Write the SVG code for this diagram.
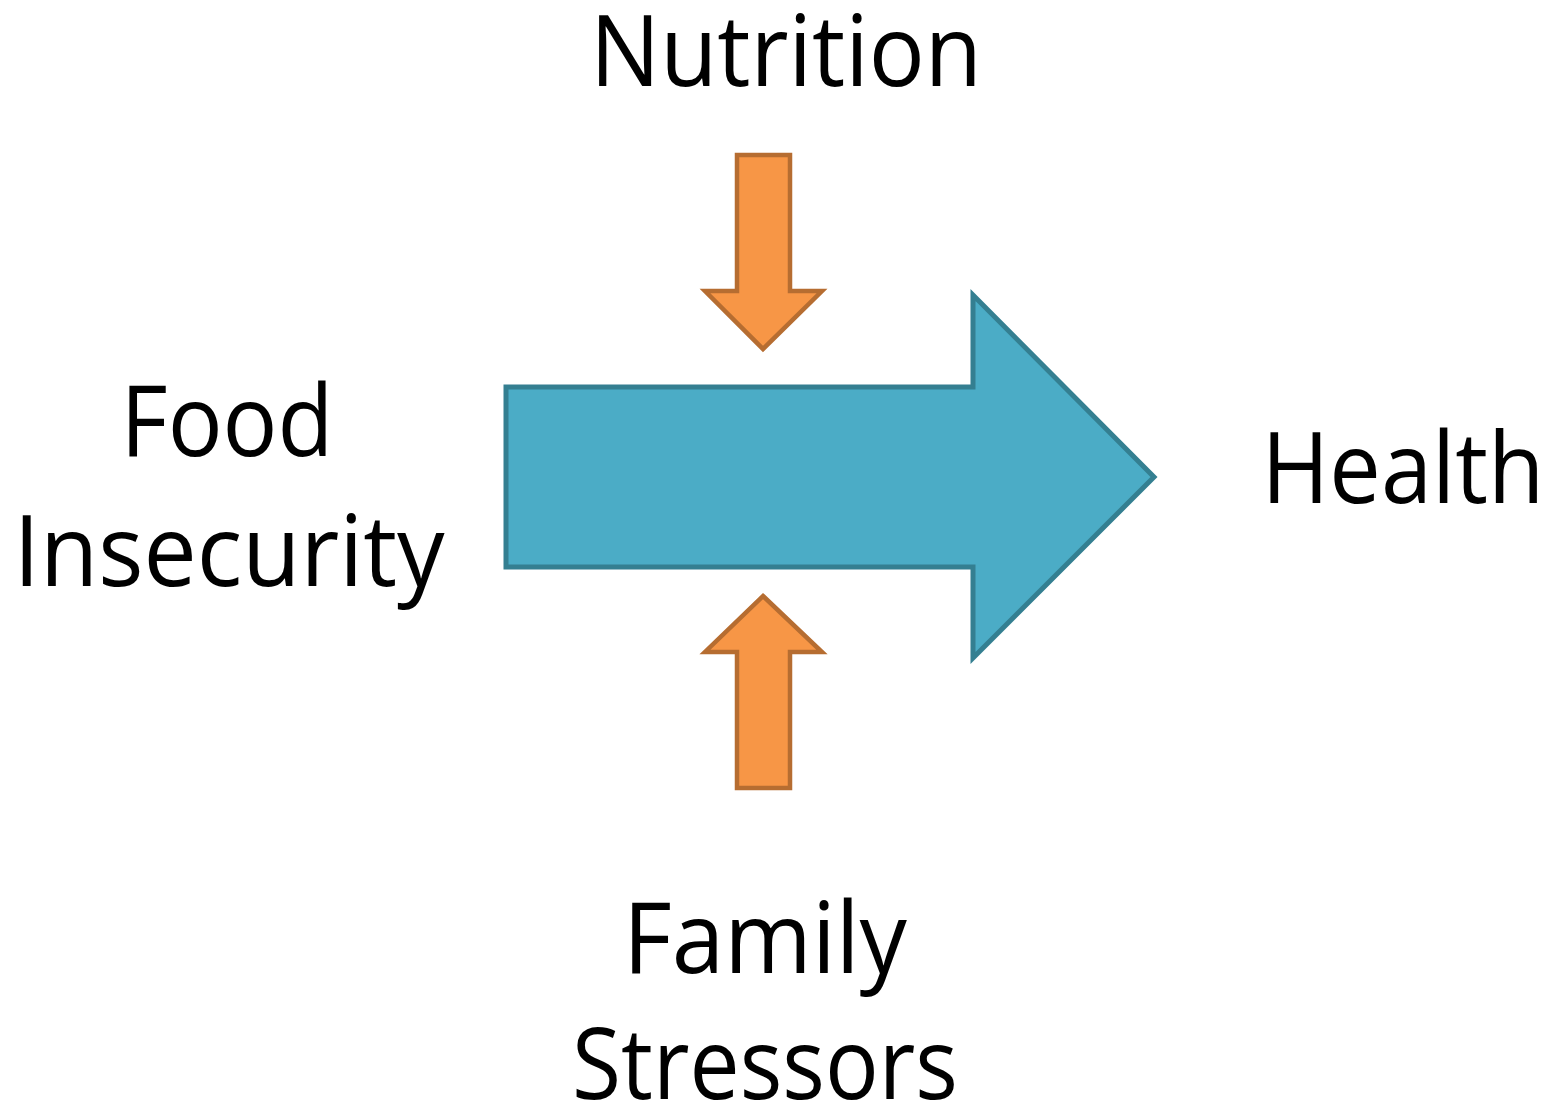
<svg xmlns="http://www.w3.org/2000/svg" width="1556" height="1110" viewBox="0 0 1556 1110">
<style>
.lbl{font-family:"Open Sans","Noto Sans","Liberation Sans",sans-serif;font-size:99px;fill:#000;text-anchor:middle}
.main{fill:#4BACC6;stroke:#347F91;stroke-width:5}
.side{fill:#F79646;stroke:#B66D31;stroke-width:4.5}
</style>
<rect width="1556" height="1110" fill="#fff"/>
<g id="connectors">
<polygon id="main-arrow" class="main" points="506,387 973,387 973,295 1154,477 973,658 973,567 506,567"/>
<polygon id="nutrition-arrow" class="side" points="737,155 790,155 790,291 822,291 763,349 705,291 737,291"/>
<polygon id="stressors-arrow" class="side" points="763,596 822,652 790,652 790,788 737,788 737,652 705,652"/>
</g>
<g id="node-nutrition"><text class="lbl" x="786" y="86" textLength="392" lengthAdjust="spacingAndGlyphs">Nutrition</text></g>
<g id="node-food"><text class="lbl" x="227" y="456" textLength="213" lengthAdjust="spacingAndGlyphs">Food</text><text class="lbl" x="229" y="586" textLength="431" lengthAdjust="spacingAndGlyphs">Insecurity</text></g>
<g id="node-health"><text class="lbl" x="1403" y="503" textLength="283" lengthAdjust="spacingAndGlyphs">Health</text></g>
<g id="node-family"><text class="lbl" x="765" y="973" textLength="284" lengthAdjust="spacingAndGlyphs">Family</text><text class="lbl" x="765" y="1099" textLength="386" lengthAdjust="spacingAndGlyphs">Stressors</text></g>
</svg>
